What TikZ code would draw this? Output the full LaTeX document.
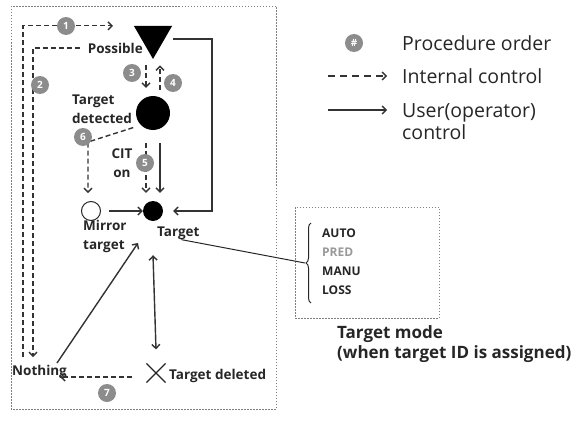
\documentclass[tikz,border=0pt]{standalone}
\usepackage{fontspec}
\setmainfont{Open Sans}
\usetikzlibrary{arrows.meta,shapes.geometric,shapes.misc,decorations.pathreplacing,calc}
\begin{document}
\begin{tikzpicture}[x=1pt,y=-1pt,
 ar/.style={-{Straight Barb[length=4pt,width=8pt]}, line width=1.4pt, draw=black!80},
 dsh/.style={ar, dash pattern=on 5pt off 3pt},
 num/.style={circle, fill=black!45, text=white, font=\bfseries\fontsize{10}{10}\selectfont, minimum size=18pt, inner sep=0pt},
 lbl/.style={font=\bfseries\fontsize{13.5}{19}\selectfont, text=black!85, inner sep=0pt},
 leg/.style={font=\fontsize{19.5}{22}\selectfont, text=black!85, inner sep=0pt, anchor=west, align=left},
 box/.style={draw=black!50, dash pattern=on 1.5pt off 1.5pt, line width=0.8pt}]
\useasboundingbox (0,0) rectangle (585,436);
\draw[box] (11,6) rectangle (276,409);

% state nodes
\node[regular polygon, regular polygon sides=3, shape border rotate=180, fill=black, minimum size=44pt, inner sep=0pt] (tri) at (153,37) {};
\node[lbl, anchor=east] (poss) at (143,48) {Possible};
\node[circle, fill=black, minimum size=34pt, inner sep=0pt] (det) at (153,113) {};
\node[lbl, align=left, anchor=west] (detl) at (72,109) {Target\\detected};
\node[lbl, align=center] (cit) at (122,163) {CIT\\on};
\node[circle, draw=black!85, line width=1pt, minimum size=19pt, inner sep=0pt] (mir) at (91,211) {};
\node[circle, fill=black, minimum size=20pt, inner sep=0pt] (tgt) at (153,211) {};
\node[lbl, align=left, anchor=west] (mirl) at (83,236) {Mirror\\target};
\node[lbl, anchor=west] (tgtl) at (157,233) {Target};
\node[lbl, anchor=west] (nothing) at (12,372) {Nothing};
\node[cross out, draw=black!85, line width=1.2pt, minimum size=18pt, inner sep=0pt] (del) at (156,373) {};
\node[lbl, anchor=west] (dell) at (169,376) {Target deleted};

% connectors
\coordinate (c1) at (23,357);
\coordinate (c2) at (33,357);
\draw[dsh] (c1) |- ([xshift=-40pt]tri.north);
\draw[dsh] ([xshift=-8pt]poss.west) -| (c2);
\draw[dsh, shorten <=6pt, shorten >=8pt] ([xshift=-7pt]tri.south) -- ([xshift=-7pt]tri.south |- det.north);
\draw[dsh, shorten <=6pt, shorten >=6pt] ([xshift=7pt]tri.south |- det.north) -- ([xshift=7pt]tri.south);
\coordinate (c6) at (88,142);
\draw[dsh, shorten <=8pt, shorten >=8pt] (det.south west) -- (c6) -- (c6 |- mir.north);
\draw[dsh, shorten <=13pt, shorten >=8pt] ([xshift=-7pt]det.south) -- ([xshift=-7pt]tgt.north);
\draw[ar, shorten <=13pt, shorten >=8pt] ([xshift=7pt]det.south) -- ([xshift=7pt]tgt.north);
\draw[ar, shorten <=7.5pt] (mir) -- (tgt);
\coordinate (rc) at (212,39);
\draw[ar, shorten >=10pt] ([xshift=20pt]tri.north |- rc) -- (rc) |- (tgt.east);
\coordinate (nt) at (138,243);
\coordinate (ns) at (57,363);
\draw[ar] (ns) -- (nt);
\draw[ar, {Straight Barb[length=4pt,width=8pt]}-{Straight Barb[length=4pt,width=8pt]}] ([yshift=-34pt]tgt.south) -- ([yshift=14pt]del.north);
\draw[dsh, shorten >=7pt] ([xshift=-14pt,yshift=-4pt]del.west) -- ([xshift=-14pt,yshift=-4pt]del.west -| nothing.east);

% procedure numbers (drawn over the lines)
\node[num] (n1) at (66,26) {1};
\node[num] (n2) at (40,85) {2};
\node[num] (n3) at (132,73) {3};
\node[num] (n4) at (173,83) {4};
\node[num] (n5) at (145,163) {5};
\node[num] (n6) at (83,137) {6};
\node[num] (n7) at (107,393) {7};

% target mode box
\node[box, minimum width=144pt, minimum height=111pt, inner sep=0pt] (modebox) at (367,262.5) {};
\node[anchor=west, align=left, inner sep=0pt, text=black!85, font=\bfseries\fontsize{12}{19}\selectfont] (modes) at (322,262) {AUTO\\\textcolor{black!40}{PRED}\\MANU\\LOSS};
\draw[line width=1pt, draw=black!85, decorate, decoration={brace, amplitude=5pt}] (311,303) -- (311,223);
\coordinate (btip) at (305,263);
\draw[line width=1pt, draw=black!85] ([xshift=3pt]tgtl.south) -- (btip);
\node[anchor=west, align=left, inner sep=0pt, text=black!85, font=\bfseries\fontsize{17}{20}\selectfont] (modet) at (337,344) {Target mode\\(when target ID is assigned)};

% legend
\node[num] (lnum) at (354,43) {\#};
\node[leg] (l1) at (402,43) {Procedure order};
\coordinate (la1) at (328,76);
\coordinate (la2) at (387,76);
\draw[ar, dash pattern=on 7pt off 5pt] (la1) -- (la2);
\node[leg] (l2) at (402,76) {Internal control};
\coordinate (lb1) at (328,110);
\coordinate (lb2) at (387,110);
\draw[ar] (lb1) -- (lb2);
\node[leg] (l3) at (402,122) {User(operator)\\control};
\end{tikzpicture}
\end{document}
